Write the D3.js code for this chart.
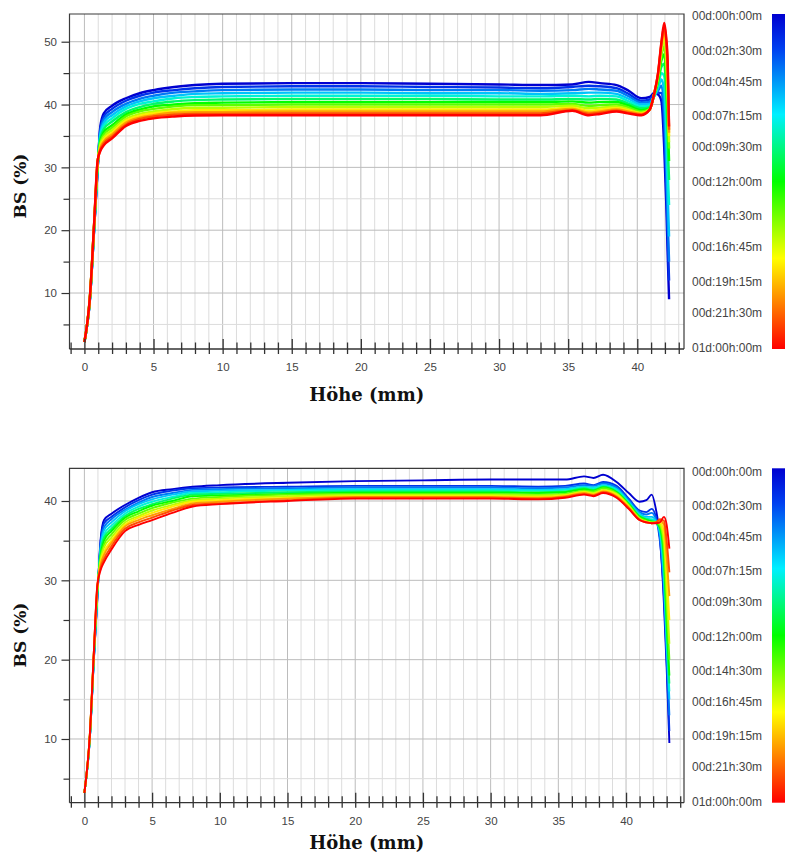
<!DOCTYPE html>
<html><head><meta charset="utf-8">
<script src="https://cdn.jsdelivr.net/npm/d3@7"></script>
<style>body{margin:0;background:#fff}svg{display:block}</style>
</head><body>
<svg id="chart" width="785" height="854"></svg>
<script>
// ---------- data ----------
const legendLabels = ["00d:00h:00m","00d:02h:30m","00d:04h:45m","00d:07h:15m","00d:09h:30m","00d:12h:00m","00d:14h:30m","00d:16h:45m","00d:19h:15m","00d:21h:30m","01d:00h:00m"];
const legendHours = [0, 2.5, 4.75, 7.25, 9.5, 12, 14.5, 16.75, 19.25, 21.5, 24];
const curveHours = [0, 2, 4, 6, 8, 10, 12, 14, 16, 18, 20, 22, 24];
const colorHours = [0, 2.5, 7.2, 12, 17.5, 24];
const colorStops = ["#0000d0", "#0040f0", "#00f0ff", "#00ff00", "#ffff00", "#ff0000"];

// upper chart: Höhe (mm) sample positions and BS (%) per scan
const heightsTop = [0,0.4,0.7,0.95,1.15,1.4,2,3,4,5,6.5,8,10,15,20,25,30,33,35.3,36.5,37.3,38.5,39.3,40.3,40.9,41.2,41.5,41.75,41.95,42.1,42.2,42.3];
const bsTop = [
 [2.2,9.0,20.0,29.5,36.5,38.6,39.8,41.0,41.8,42.3,42.8,43.1,43.3,43.4,43.4,43.3,43.2,43.1,43.2,43.6,43.4,43.1,42.3,41.0,41.2,41.8,41.6,40.5,33,24,16,9],
 [2.2,9.1,20.1,29.6,36.1,38.1,39.3,40.6,41.4,41.9,42.3,42.6,42.8,42.9,42.9,42.8,42.7,42.6,42.8,43.0,42.9,42.6,41.8,40.6,40.8,41.5,41.9,41.8,36,27,19,12],
 [2.2,9.1,20.2,29.8,35.7,37.6,38.8,40.1,40.9,41.4,41.9,42.1,42.3,42.4,42.4,42.3,42.3,42.2,42.3,42.5,42.4,42.2,41.4,40.3,40.4,41.3,42.2,43.0,39,30,22,15],
 [2.2,9.2,20.3,29.9,35.4,37.1,38.3,39.7,40.5,41.0,41.4,41.7,41.8,41.9,41.9,41.8,41.8,41.7,41.8,41.9,41.9,41.7,41.0,40.0,40.1,41.2,42.6,44.0,42,34,26,19],
 [2.2,9.2,20.4,30.0,35.0,36.6,37.8,39.3,40.1,40.5,41.0,41.2,41.3,41.4,41.4,41.4,41.3,41.3,41.4,41.3,41.4,41.3,40.6,39.7,39.8,41.2,43.0,45.0,44.5,38,30,24],
 [2.2,9.3,20.5,30.2,34.6,36.1,37.3,38.8,39.6,40.1,40.5,40.7,40.8,40.9,40.9,40.9,40.8,40.8,40.9,40.8,40.9,40.8,40.2,39.4,39.6,41.3,43.4,46.0,46.5,41,34,28],
 [2.2,9.3,20.6,30.3,34.2,35.6,36.7,38.4,39.2,39.7,40.0,40.2,40.3,40.4,40.4,40.4,40.4,40.4,40.5,40.3,40.4,40.4,39.9,39.1,39.4,41.4,43.8,47.0,48.0,43.5,38,31],
 [2.2,9.4,20.7,30.4,33.9,35.2,36.3,38.1,38.9,39.3,39.7,39.9,39.9,40.0,40.0,40.0,40.0,40.0,40.1,39.8,39.9,40.0,39.6,38.9,39.3,41.4,44.1,47.8,49.3,45.5,40,33],
 [2.2,9.4,20.8,30.6,33.6,34.8,35.9,37.7,38.5,38.9,39.3,39.5,39.5,39.6,39.6,39.6,39.6,39.6,39.8,39.4,39.5,39.7,39.3,38.7,39.2,41.5,44.4,48.5,50.3,47,42,34],
 [2.2,9.4,20.8,30.7,33.3,34.4,35.5,37.4,38.2,38.6,38.9,39.1,39.1,39.2,39.2,39.2,39.2,39.2,39.5,39.0,39.2,39.4,39.1,38.6,39.2,41.5,44.6,49.0,51.2,48.5,43.5,35],
 [2.2,9.5,20.9,30.8,33.1,34.1,35.2,37.1,37.9,38.3,38.7,38.8,38.8,38.9,38.9,38.9,38.9,38.9,39.3,38.7,38.9,39.2,38.9,38.5,39.2,41.5,44.8,49.5,52.0,49.5,45,35.5],
 [2.2,9.5,21.0,30.9,32.8,33.8,34.9,36.8,37.7,38.1,38.4,38.5,38.5,38.6,38.6,38.6,38.6,38.6,39.1,38.5,38.7,39.0,38.7,38.4,39.2,41.5,44.9,49.8,52.5,50.0,46,36],
 [2.2,9.5,21.0,31.0,32.6,33.5,34.6,36.6,37.4,37.8,38.1,38.25,38.3,38.3,38.3,38.3,38.3,38.3,39.0,38.3,38.5,38.9,38.6,38.3,39.2,41.5,45.0,50.0,53.0,50.5,47,36.5]
];

// lower chart
const heightsBottom = [0,0.4,0.7,0.95,1.2,1.45,2,3,4,5,6.5,8,10,15,20,25,30,33.5,35.5,36.9,37.6,38.3,39.3,40.2,41.0,41.5,41.9,42.2,42.5,42.8,43.0,43.2];
const bsBottom = [
 [3.2,10.0,20.0,27.5,35.2,37.6,38.4,39.5,40.4,41.1,41.5,41.8,42.0,42.3,42.5,42.6,42.7,42.7,42.7,43.1,42.9,43.3,42.4,41.0,39.9,40.1,40.8,39.0,35.5,27,19,9.5],
 [3.2,10.0,20.1,27.7,34.9,37.2,38.0,39.2,40.1,40.8,41.3,41.6,41.7,41.8,41.9,41.9,41.9,41.8,41.9,42.2,42.0,42.4,41.9,40.3,38.8,38.6,39.0,38.0,35.0,28,20,11],
 [3.2,10.1,20.2,27.8,34.6,36.7,37.7,38.9,39.8,40.5,41.0,41.4,41.5,41.6,41.7,41.7,41.7,41.6,41.7,42.0,41.9,42.2,41.7,40.1,38.6,38.3,38.5,37.7,35.5,29,21,13],
 [3.2,10.1,20.3,28.0,34.2,36.3,37.3,38.7,39.6,40.2,40.8,41.2,41.3,41.4,41.5,41.5,41.5,41.4,41.5,41.8,41.7,42.0,41.5,39.9,38.4,38.0,38.0,37.5,36.0,30,22,15],
 [3.2,10.2,20.4,28.2,33.9,35.8,36.9,38.4,39.3,39.9,40.5,41.0,41.1,41.3,41.35,41.35,41.35,41.3,41.4,41.7,41.6,41.9,41.4,39.8,38.2,37.8,37.7,37.4,36.3,31,23,16],
 [3.2,10.2,20.5,28.3,33.6,35.4,36.5,38.1,39.0,39.6,40.3,40.8,40.9,41.1,41.2,41.2,41.2,41.1,41.2,41.6,41.4,41.8,41.2,39.7,38.1,37.7,37.5,37.3,36.5,32,24,17],
 [3.2,10.3,20.6,28.5,33.2,35.0,36.2,37.9,38.7,39.4,40.0,40.6,40.7,40.9,41.05,41.05,41.05,41.0,41.1,41.5,41.3,41.7,41.1,39.6,38.0,37.6,37.4,37.3,36.7,33,25,18],
 [3.2,10.3,20.7,28.6,32.9,34.5,35.8,37.6,38.4,39.1,39.8,40.3,40.5,40.8,40.9,40.9,40.9,40.8,40.9,41.3,41.2,41.6,41.0,39.5,37.9,37.5,37.3,37.3,36.9,34,27,20],
 [3.2,10.4,20.8,28.8,32.6,34.1,35.4,37.3,38.1,38.8,39.5,40.1,40.3,40.6,40.75,40.75,40.75,40.7,40.8,41.2,41.0,41.4,40.9,39.4,37.8,37.4,37.3,37.3,37.1,35,29,22],
 [3.2,10.4,20.9,28.9,32.3,33.6,35.0,37.0,37.9,38.5,39.3,39.9,40.1,40.4,40.6,40.6,40.6,40.5,40.7,41.1,40.9,41.3,40.8,39.3,37.7,37.4,37.2,37.3,37.3,36,31,25],
 [3.2,10.5,21.0,29.1,32.0,33.2,34.7,36.8,37.6,38.2,39.0,39.7,39.9,40.3,40.5,40.5,40.5,40.4,40.6,41.0,40.8,41.2,40.6,39.2,37.7,37.3,37.2,37.3,37.5,37,33,28],
 [3.2,10.5,21.0,29.2,31.6,32.7,34.3,36.5,37.3,37.9,38.8,39.5,39.7,40.1,40.4,40.4,40.4,40.3,40.5,40.9,40.7,41.1,40.5,39.1,37.6,37.3,37.2,37.3,37.7,37.5,35,31],
 [3.2,10.5,21.0,29.3,31.3,32.3,33.9,36.2,37.0,37.6,38.5,39.3,39.6,40.0,40.3,40.3,40.3,40.2,40.4,40.8,40.6,41.0,40.4,39.0,37.6,37.3,37.2,37.2,37.3,38.0,37.0,34]
];

const xTitle = "Höhe (mm)";
const yTitle = "BS (%)";

// ---------- drawing ----------
const svg = d3.select("#chart");
const defs = svg.append("defs");
const color = d3.scaleLinear().domain(colorHours).range(colorStops);

const grad = defs.append("linearGradient").attr("id", "cbar")
  .attr("x1", 0).attr("y1", 0).attr("x2", 0).attr("y2", 1);
grad.selectAll("stop").data(colorHours).join("stop")
  .attr("offset", d => d / 24).attr("stop-color", d => color(d));

const labelFont = "'Liberation Sans', Arial, sans-serif";
const titleFont = "'DejaVu Serif', serif";

function drawPanel(p) {
  const x = d3.scaleLinear().domain(p.xDomain).range([p.left, p.right]);
  const y = d3.scaleLinear().domain(p.yDomain).range([p.bottom, p.top]);
  const g = svg.append("g");

  // grid
  const xs = d3.range(0, Math.floor(p.xDomain[1]) + 1);
  g.append("g").selectAll("line").data(xs).join("line")
    .attr("x1", d => x(d)).attr("x2", d => x(d))
    .attr("y1", p.top).attr("y2", p.bottom)
    .attr("stroke", d => d % 5 === 0 ? "#bcbcbc" : "#dcdcdc").attr("stroke-width", 1);
  const ys = d3.range(5, p.yDomain[1], 5).filter(v => v > p.yDomain[0]);
  g.append("g").selectAll("line").data(ys).join("line")
    .attr("x1", p.left).attr("x2", p.right)
    .attr("y1", d => y(d)).attr("y2", d => y(d))
    .attr("stroke", d => d % 10 === 0 ? "#bcbcbc" : "#dcdcdc").attr("stroke-width", 1);

  // curves
  const clipId = p.id + "-clip";
  defs.append("clipPath").attr("id", clipId).append("rect")
    .attr("x", p.left).attr("y", p.top).attr("width", p.right - p.left).attr("height", p.bottom - p.top);
  const line = d3.line().x((d, i) => x(p.heights[i])).y(d => y(d)).curve(d3.curveMonotoneX);
  g.append("g").attr("clip-path", `url(#${clipId})`)
    .selectAll("path").data(p.curves).join("path")
    .attr("d", line).attr("fill", "none")
    .attr("stroke", (d, i) => color(curveHours[i]))
    .attr("stroke-width", p.stroke).attr("stroke-linejoin", "round");

  // frame (top, left, right)
  g.append("path")
    .attr("d", `M${p.left},${p.bottom}V${p.top}H${p.right}V${p.bottom}`)
    .attr("fill", "none").attr("stroke", "#3a3a3a").attr("stroke-width", 1.2);

  // x axis
  const xTicks = d3.range(-1, Math.floor(p.xDomain[1]) + 1);
  const xa = g.append("g").attr("transform", `translate(0,${p.bottom})`)
    .call(d3.axisBottom(x).tickValues(xTicks).tickSize(5).tickPadding(9)
      .tickFormat(d => d % 5 === 0 && d >= 0 && d <= 40 ? d : ""));
  xa.select(".domain").remove();
  xa.selectAll(".tick line").attr("y1", d => d % 5 === 0 ? -10 : -6.5)
    .attr("stroke", "#333").attr("stroke-width", 1.3);
  xa.selectAll("text").attr("font-family", labelFont).attr("font-size", 11.5).attr("fill", "#444");
  g.append("line").attr("x1", p.left).attr("x2", p.right).attr("y1", p.bottom).attr("y2", p.bottom)
    .attr("stroke", "#333").attr("stroke-width", 1.3);

  // y axis
  const ya = g.append("g").attr("transform", `translate(${p.left},0)`)
    .call(d3.axisLeft(y).tickValues(ys).tickSize(8).tickPadding(4.5)
      .tickFormat(d => d % 10 === 0 ? d : ""));
  ya.select(".domain").remove();
  ya.selectAll(".tick line").attr("x2", d => d % 10 === 0 ? -8 : -6).attr("stroke", "#333").attr("stroke-width", 1.2);
  ya.selectAll("text").attr("font-family", labelFont).attr("font-size", 11.5).attr("fill", "#444");

  // titles
  g.append("text").attr("x", (p.left + p.right) / 2 - 10).attr("y", p.xTitleY)
    .attr("text-anchor", "middle").attr("font-family", titleFont).attr("font-weight", "bold")
    .attr("font-size", 18).attr("fill", "#111").text(xTitle);
  g.append("text").attr("transform", `translate(20,${p.yTitleY}) rotate(-90)`)
    .attr("text-anchor", "middle").attr("dominant-baseline", "central")
    .attr("font-family", titleFont).attr("font-weight", "bold")
    .attr("font-size", 17).attr("fill", "#111").text(yTitle);

  // legend
  const ty = d3.scaleLinear().domain([0, 24]).range([p.legTop, p.legBottom]);
  g.append("g").selectAll("text").data(legendLabels).join("text")
    .attr("x", 692).attr("y", (d, i) => ty(legendHours[i]))
    .attr("dominant-baseline", "central")
    .attr("font-family", labelFont).attr("font-size", 12).attr("fill", "#444").text(d => d);
  g.append("rect").attr("x", 772).attr("y", p.top).attr("width", 20).attr("height", p.bottom - p.top)
    .attr("fill", "url(#cbar)");
}

drawPanel({id: "top", left: 69.5, right: 684, top: 14, bottom: 349,
  xDomain: [-1.08, 43.38], yDomain: [1.09, 54.41],
  heights: heightsTop, curves: bsTop, stroke: 2.4,
  xTitleY: 401, yTitleY: 186, legTop: 16, legBottom: 347.7});
drawPanel({id: "bottom", left: 69.5, right: 684, top: 468.3, bottom: 802.7,
  xDomain: [-1.1, 44.28], yDomain: [1.97, 44.12],
  heights: heightsBottom, curves: bsBottom, stroke: 1.9,
  xTitleY: 849, yTitleY: 635, legTop: 471.7, legBottom: 801.7});
</script>
</body></html>
